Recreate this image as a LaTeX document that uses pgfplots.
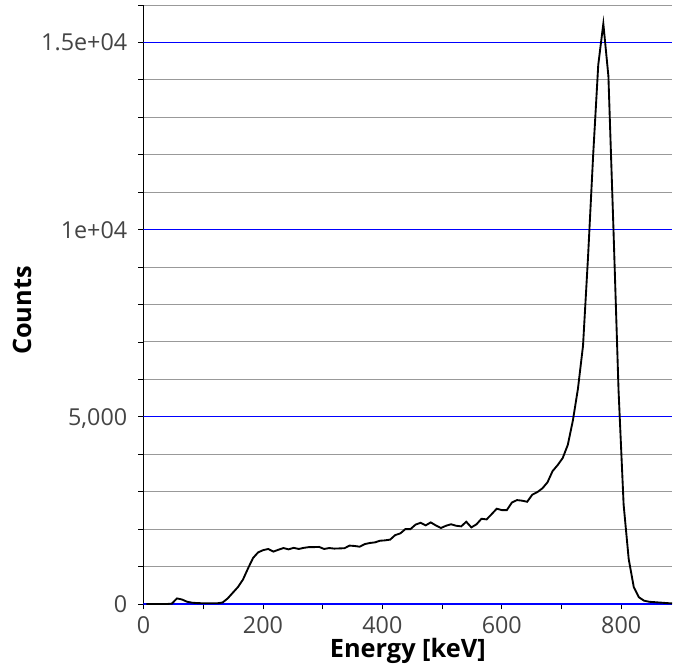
\documentclass[border=0pt]{standalone}
\usepackage{pgfplots}
\pgfplotsset{compat=1.18}
\usepackage{fontspec}
\setmainfont{Open Sans}
\definecolor{ticklab}{HTML}{444444}
\definecolor{gridblue}{HTML}{0000FF}
\definecolor{gridgray}{HTML}{999999}
\begin{document}
\begin{tikzpicture}
\begin{axis}[
  scale only axis,
  width=396.375pt, height=449.25pt,
  xmin=0, xmax=885, ymin=0, ymax=16000,
  axis x line*=bottom, axis y line*=left,
  x axis line style={draw=none},
  y axis line style={black, line width=0.8pt},
  xtick={0,200,400,600,800},
  minor xtick={100,300,500,700},
  ytick={0,5000,10000,15000},
  yticklabels={0,{5,000},1e+04,1.5e+04},
  minor ytick={1000,2000,3000,4000,6000,7000,8000,9000,11000,12000,13000,14000,16000},
  tick align=outside,
  major tick length=4pt, minor tick length=4pt,
  tick style={black, line width=0.6pt},
  yminorgrids,
  minor grid style={gridgray, line width=0.7pt},
  /pgf/number format/assume math mode=true,
  tick label style={font=\fontsize{17.5}{21}\selectfont, text=ticklab},
  xticklabel style={anchor=north, inner sep=0pt, yshift=-5pt},
  yticklabel style={anchor=east, inner sep=0pt, xshift=-8pt, text depth=0pt},
  scaled y ticks=false,
  xlabel={Energy [keV]}, ylabel={Counts},
  label style={font=\fontsize{19}{22}\selectfont\bfseries},
  xlabel style={at={(axis description cs:0.5,-0.0885)}, anchor=base},
  ylabel style={at={(axis description cs:-0.229,0.49)}, anchor=center, rotate=0},
  clip=true,
]
\addplot[gridblue, line width=1pt, forget plot] coordinates {(0,0)(885,0)};
\addplot[gridblue, line width=1pt, forget plot] coordinates {(0,5000)(885,5000)};
\addplot[gridblue, line width=1pt, forget plot] coordinates {(0,10000)(885,10000)};
\addplot[gridblue, line width=1pt, forget plot] coordinates {(0,15000)(885,15000)};
\addplot[black, line width=1.4pt] coordinates {
(5,0)(13.5,0)(22,0)(30.5,0)(39,0)(47.5,10)(56,150)(64.5,120)(73,60)(81.5,35)
(90,25)(98.5,20)(107,20)(115.5,20)(124,20)(132.5,40)(141,150)(149.5,300)(158,450)(166.5,650)
(175,950)(183.5,1230)(192,1380)(200.5,1440)(209,1470)(217.5,1400)(226,1450)(234.5,1495)(243,1460)(251.5,1500)
(260,1470)(268.5,1500)(277,1520)(285.5,1520)(294,1525)(302.5,1470)(311,1495)(319.5,1480)(328,1485)(336.5,1490)
(345,1560)(353.5,1550)(362,1530)(370.5,1600)(379,1630)(387.5,1646)(396,1690)(404.5,1700)(413,1720)(421.5,1841)
(430,1886)(438.5,2000)(447,2000)(455.5,2120)(464,2170)(472.5,2100)(481,2180)(489.5,2100)(498,2030)(506.5,2090)
(515,2130)(523.5,2090)(532,2074)(540.5,2197)(549,2047)(557.5,2127)(566,2277)(574.5,2260)(583,2400)(591.5,2545)
(600,2509)(608.5,2509)(617,2713)(625.5,2776)(634,2760)(642.5,2731)(651,2920)(659.5,2989)(668,3090)(676.5,3250)
(685,3550)(693.5,3710)(702,3900)(710.5,4250)(719,4900)(727.5,5750)(736,6900)(744.5,9300)(753,12000)(761.5,14400)
(770,15500)(778.5,14100)(787,10000)(795.5,5700)(804,2650)(812.5,1200)(821,450)(829.5,180)(838,90)(846.5,60)
(855,50)(863.5,40)(872,30)(880.5,20)(889,15)
};
\end{axis}
\pgfresetboundingbox
\path (-107.625pt,-48pt) rectangle (397.125pt,453pt);
\end{tikzpicture}
\end{document}
